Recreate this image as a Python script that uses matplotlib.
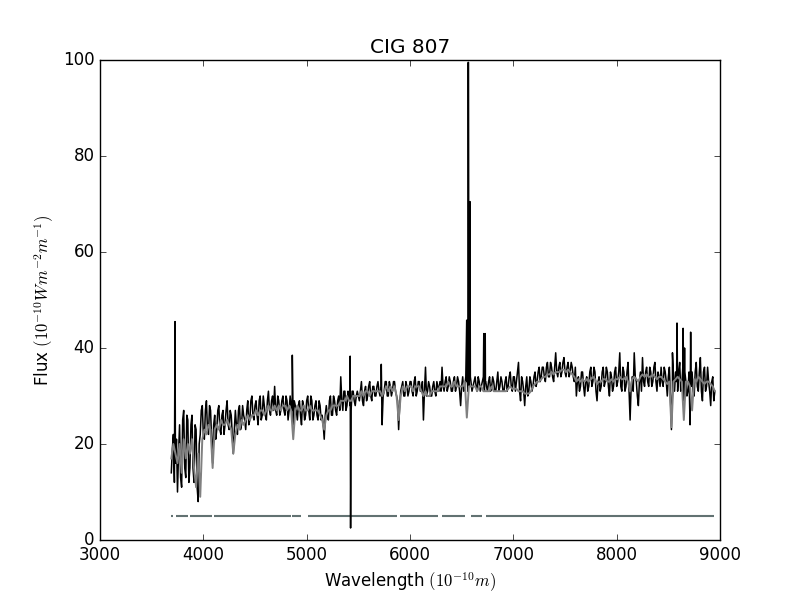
import numpy as np
import matplotlib
matplotlib.use("Agg")
import matplotlib.pyplot as plt

plt.style.use('classic')

# Wavelength grids (Angstrom): main 20 A grid and the in-between samples
wave = np.arange(3690, 8960, 20)
wave_mid = np.arange(3700, 8950, 20)

obs_flux = [
    14, 22, 16, 10, 24, 11, 27, 13, 25, 15,
    26, 12, 23, 8, 22, 28, 21, 29, 22, 27,
    16, 26, 23, 28, 22, 27, 24, 29, 23, 26,
    18, 27, 22, 28, 24, 26, 23, 29, 25, 30,
    25, 29, 24, 30, 26, 28, 25, 31, 26, 30,
    32, 26, 29, 27, 30, 26, 29, 27, 28, 24,
    28, 25, 29, 24, 28, 26, 30, 25, 29, 26,
    29, 25, 28, 26, 21, 28, 25, 30, 26, 29,
    26, 30, 34, 27, 31, 28, 30, 27, 31, 28,
    31, 29, 33, 28, 32, 30, 33, 29, 32, 30,
    33, 30, 24, 31, 33, 30, 32, 31, 33, 30,
    23, 31, 33, 30, 32, 31, 33, 30, 34, 31,
    33, 31, 25, 36, 31, 32, 30, 33, 30, 32,
    33, 36, 31, 34, 32, 33, 31, 34, 32, 33,
    28, 34, 32, 33, 32, 33, 32, 34, 31, 33,
    32, 34, 33, 31, 34, 32, 33, 31, 35, 32,
    33, 31, 34, 32, 35, 31, 34, 33, 37, 29,
    33, 28, 34, 31, 33, 32, 35, 33, 36, 34,
    36, 33, 37, 34, 36, 33, 39, 34, 37, 35,
    38, 34, 37, 35, 36, 33, 30, 34, 32, 35,
    30, 34, 32, 36, 33, 35, 29, 34, 32, 36,
    33, 35, 30, 34, 32, 36, 33, 39, 31, 35,
    32, 37, 25, 34, 39, 33, 28, 35, 38, 32,
    36, 32, 35, 33, 37, 31, 34, 36, 32, 35,
    30, 36, 23, 34, 35, 31, 37, 32, 29, 33,
    31, 24, 35, 30, 37, 31, 38, 29, 36, 32,
    33, 28, 34, 31,
]

# Observed flux at the in-between wavelengths
obs_flux_mid = [
    19, 12, 21, 18, 13, 25, 15, 26, 12, 24,
    15, 24, 11, 20, 27, 22, 27, 23, 28, 21,
    24, 21, 27, 23, 26, 22, 27, 24, 27, 22,
    23, 24, 27, 23, 28, 25, 27, 24, 29, 26,
    28, 26, 29, 25, 30, 26, 29, 27, 29, 27,
    27, 30, 26, 29, 27, 30, 25, 30, 27, 29,
    27, 28, 26, 29, 25, 29, 27, 30, 25, 28,
    26, 29, 25, 24, 26, 26, 29, 26, 30, 27,
    29, 27, 29, 31, 27, 31, 28, 31, 29, 30,
    30, 31, 29, 31, 29, 32, 30, 32, 30, 32,
    31, 32, 30, 33, 30, 33, 30, 33, 31, 29,
    28, 32, 30, 33, 30, 33, 31, 33, 30, 33,
    31, 33, 31, 30, 33, 30, 32, 31, 33, 31,
    31, 32, 33, 31, 34, 31, 33, 31, 34, 31,
    32, 31, 34, 31, 34, 31, 33, 32, 34, 31,
    33, 31, 32, 33, 31, 34, 31, 33, 31, 34,
    31, 33, 31, 34, 32, 34, 31, 35, 31, 34,
    31, 32, 30, 34, 31, 34, 32, 35, 33, 36,
    34, 36, 34, 37, 34, 36, 35, 36, 34, 37,
    35, 36, 34, 37, 34, 36, 33, 31, 35, 32,
    33, 31, 35, 32, 36, 31, 33, 31, 35, 32,
    36, 32, 35, 31, 35, 32, 35, 32, 36, 31,
    35, 31, 32, 31, 34, 30, 33, 31, 33, 35,
    33, 36, 32, 36, 33, 35, 32, 33, 36, 33,
    34, 30, 31, 31, 33, 35, 31, 36, 35, 30,
    35, 32, 31, 35, 32, 35, 31, 35, 31, 36,
    31, 33, 29,
]

# Model (synthetic) flux on the main grid
model_flux = [
    17, 20, 18, 16, 20, 14, 21, 17, 20, 18,
    21, 15, 11, 18, 9, 21, 23, 22, 24, 23,
    15, 23, 24, 23, 25, 24, 24, 25, 24, 23,
    18, 22, 24, 23, 25, 24, 25, 26, 25, 26,
    26, 27, 26, 27, 27, 26, 27, 28, 27, 27,
    28, 27, 28, 27, 28, 28, 27, 28, 27, 21,
    27, 28, 27, 27, 28, 27, 27, 28, 27, 27,
    27, 27, 26, 25, 23, 26, 27, 27, 28, 28,
    28, 28, 29, 29, 29, 30, 29, 29, 30, 30,
    30, 30, 31, 30, 31, 31, 30, 31, 31, 31,
    31, 31, 30, 31, 32, 31, 32, 31, 32, 30,
    25, 30, 32, 31, 32, 32, 32, 31, 32, 32,
    32, 31, 30, 31, 30, 30, 31, 31, 31, 31,
    32, 32, 32, 32, 33, 32, 32, 33, 32, 32,
    32, 32, 33, 25.5, 32, 32, 32, 32, 31, 32,
    32, 31, 31, 31, 31, 32, 31, 31, 31, 31,
    31, 31, 31, 31.5, 32, 31.5, 31.5, 31.5, 31, 31,
    31, 30.5, 30.5, 30.5, 31, 32, 32.5, 33, 33, 33.5,
    34, 34, 34.5, 34.5, 35, 34.5, 35, 35, 35, 35.5,
    35.5, 35, 35.5, 35, 34.5, 34, 33, 33.5, 33, 33.5,
    33, 33.5, 33, 33.5, 34, 33.5, 32.5, 33, 33, 33.5,
    33.5, 33, 33, 33.5, 33, 33.5, 33.5, 34, 33.5, 33.5,
    34, 33, 31, 33.5, 34, 33.5, 33, 34, 34.5, 34,
    34.5, 34, 34, 34.5, 34, 33.5, 34, 34, 33.5, 33,
    32.5, 33, 23.5, 33, 33.5, 34, 33.5, 33, 25, 33,
    33, 32, 27, 33.5, 33, 34, 33.5, 33, 32.5, 33,
    33, 32.5, 32, 31,
]

# Narrow emission lines / sky residuals in the observed spectrum
line_wave = [3726, 4861, 5421, 5425, 5722, 6549, 6553, 6562, 6566, 6572,
             6580, 6584, 6714, 6718, 6728, 6733, 8540, 8584, 8643, 8657, 8716]
line_flux = [45.5, 38.5, 38.3, 2.5, 36.6, 45.8, 34, 99.5, 99.5, 34,
             70.5, 34, 43, 33, 43, 33, 39, 45.2, 44.1, 40, 43.3]

# Masked regions used in the fit
mask_start = [3690, 3740, 3875, 4105, 4860, 5015, 5905, 6310, 6590, 6735]
mask_end = [3710, 3850, 4085, 4845, 4945, 5875, 6270, 6535, 6700, 8940]
mask_level = 5

ww = np.concatenate([wave, wave_mid, line_wave])
ff = np.concatenate([obs_flux, obs_flux_mid, line_flux])
order = np.argsort(ww, kind='stable')

fig = plt.figure(figsize=(8, 6))
ax = fig.add_subplot(111)

ax.hlines([mask_level] * len(mask_start), mask_start, mask_end,
          colors='#627272', linewidth=1.5)
ax.plot(ww[order], ff[order], color='black', linewidth=1.1)
ax.plot(wave, model_flux, color='#808080', linewidth=1.4)

ax.set_xlim(3000, 9000)
ax.set_ylim(0, 100)
ax.set_title('CIG 807')
ax.set_xlabel(r'Wavelength $(10^{-10} m)$')
ax.set_ylabel(r'Flux $(10^{-10} W m^{-2} m^{-1})$')

fig.savefig('out.png', dpi=100)
